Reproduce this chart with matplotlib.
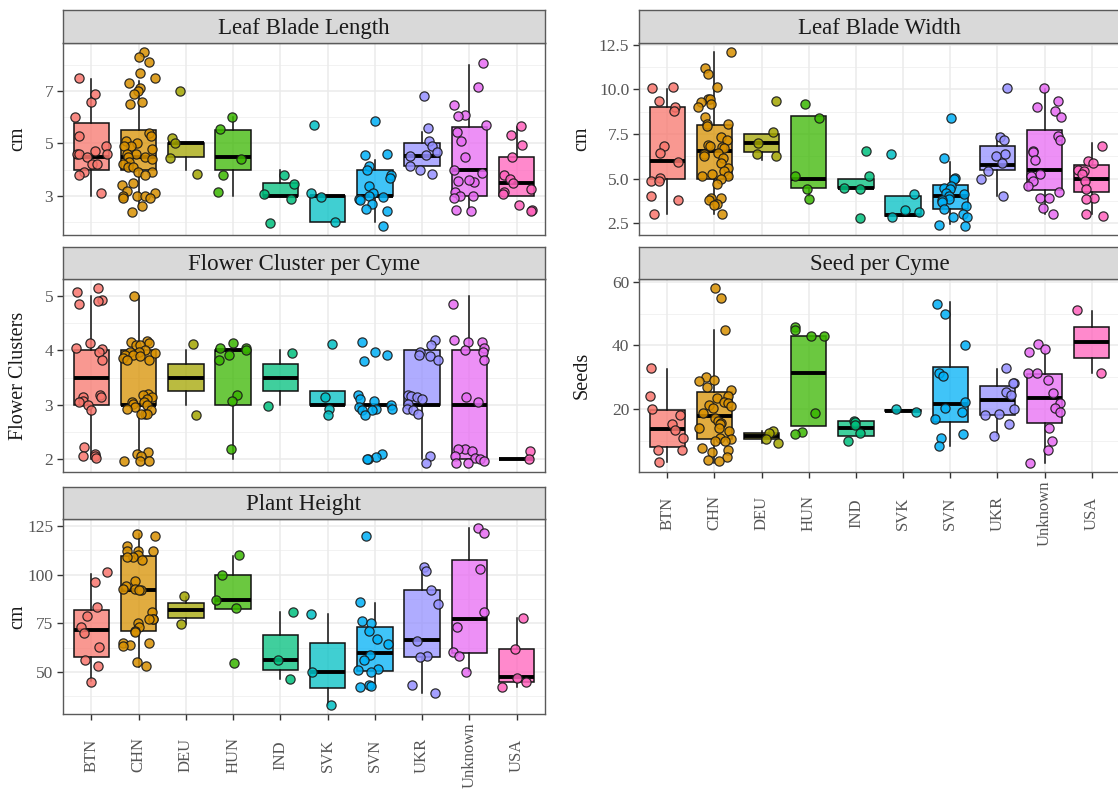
import numpy as np
import matplotlib.pyplot as plt
from matplotlib.colors import to_rgba

plt.rcParams['font.family'] = ['Liberation Serif', 'DejaVu Serif']

countries = ['BTN', 'CHN', 'DEU', 'HUN', 'IND', 'SVK', 'SVN', 'UKR', 'Unknown', 'USA']
palette = ['#F8766D', '#D89000', '#A3A500', '#39B600', '#00BF7D',
           '#00BFC4', '#00B0F6', '#9590FF', '#E76BF3', '#FF62BC']

# ---- Leaf Blade Length (cm) ----
length_pts = [
    [7.5, 6.6, 6.9, 6.0, 5.3, 4.9, 4.6, 4.6, 4.6, 4.7, 4.5, 4.2, 4.2, 3.9, 3.8, 3.1],
    [8.5, 8.3, 8.1, 7.7, 7.5, 7.3, 7.1, 7.0, 6.9, 6.6, 6.5, 5.4, 5.3, 5.1, 5.0, 4.9, 4.9,
     4.8, 4.6, 4.6, 4.5, 4.5, 4.4, 4.3, 4.2, 4.1, 4.1, 3.9, 3.9, 3.8, 3.5, 3.4, 3.2, 3.1,
     3.0, 3.0, 3.0, 2.9, 2.9, 2.6, 2.4],
    [7.0, 5.2, 5.0, 4.45, 3.85],
    [6.0, 5.55, 4.4, 3.8, 3.15],
    [3.8, 3.45, 3.06, 2.87, 1.97],
    [5.7, 3.1, 2.97, 2.0],
    [5.85, 4.6, 4.55, 4.13, 4.0, 3.8, 3.67, 3.38, 3.1, 3.0, 2.94, 2.87, 2.85, 2.7, 2.5, 2.43, 1.84],
    [6.8, 5.58, 5.08, 4.91, 4.66, 4.53, 4.57, 4.13, 4.0, 3.85],
    [8.06, 7.15, 6.48, 6.08, 6.03, 5.7, 5.45, 5.1, 4.5, 4.0, 3.88, 3.53, 3.56, 3.6, 3.15,
     3.0, 3.0, 2.9, 2.47, 2.43],
    [5.67, 5.33, 4.93, 4.48, 3.8, 3.63, 3.5, 3.28, 3.13, 3.06, 2.65, 2.47, 2.41],
]
length_q1 = [4.0, 4.0, 4.47, 4.0, 3.0, 2.0, 3.0, 4.13, 3.0, 3.0]
length_med = [4.5, 4.5, 5.0, 4.5, 3.0, 3.0, 3.0, 4.53, 4.0, 3.5]
length_q3 = [5.77, 5.5, 5.0, 5.5, 3.5, 3.0, 4.0, 5.0, 5.62, 4.5]
length_lo = [3.0, 2.5, 4.0, 3.0, 3.0, 2.0, 2.0, 4.13, 2.5, 3.0]
length_hi = [7.47, 7.4, 5.0, 6.0, 3.97, 3.0, 4.38, 5.45, 8.0, 5.64]

# ---- Leaf Blade Width (cm) ----
width_pts = [
    [10.1, 10.05, 9.36, 9.03, 8.8, 6.85, 6.42, 5.93, 5.05, 4.86, 4.86, 4.0, 3.82, 3.03],
    [12.07, 11.2, 10.86, 10.13, 9.43, 9.43, 9.27, 9.17, 9.0, 8.44, 8.07, 8.07, 7.93, 7.34,
     7.15, 6.88, 6.84, 6.79, 6.7, 6.42, 6.39, 6.24, 6.15, 5.87, 5.6, 5.41, 5.23, 5.14, 5.14,
     5.0, 4.68, 3.94, 3.89, 3.8, 3.58, 3.52, 3.03],
    [9.36, 7.6, 7.0, 6.39, 6.24],
    [9.2, 8.39, 5.13, 4.44, 3.85],
    [6.57, 5.14, 4.5, 4.4, 2.8],
    [6.39, 4.13, 3.25, 3.12, 2.85],
    [8.39, 6.13, 5.02, 4.99, 4.59, 4.5, 4.4, 4.22, 4.13, 4.04, 3.85, 3.8, 3.67, 3.49, 3.27,
     3.03, 2.84, 2.84, 2.39, 2.33],
    [10.09, 7.34, 7.16, 6.39, 6.24, 5.87, 5.41, 4.95, 4.04],
    [10.09, 9.36, 9.0, 8.8, 8.44, 7.38, 7.16, 6.57, 6.51, 6.06, 5.23, 5.17, 4.86, 4.59, 4.26,
     3.94, 3.94, 3.34, 3.03],
    [6.84, 5.96, 5.87, 5.5, 5.41, 5.23, 4.86, 4.44, 3.94, 3.85, 3.03, 2.9],
]
width_q1 = [5.0, 5.0, 6.5, 4.5, 4.5, 2.93, 3.3, 5.47, 4.37, 4.26]
width_med = [6.0, 6.55, 7.0, 5.0, 4.5, 2.97, 4.04, 5.78, 5.5, 5.0]
width_q3 = [9.0, 8.0, 7.5, 8.5, 5.0, 4.04, 4.62, 6.84, 7.74, 5.78]
width_lo = [3.0, 3.0, 6.05, 4.0, 4.5, 2.93, 2.48, 4.04, 3.03, 3.03]
width_hi = [10.0, 12.1, 7.5, 8.5, 5.0, 4.04, 5.9, 7.49, 10.0, 6.97]

# ---- Flower Cluster per Cyme ----
flower_pts = [
    [5.15, 5.08, 4.92, 4.9, 4.85, 4.13, 4.05, 4.03, 3.98, 3.83, 3.18, 3.15, 3.14, 3.08, 3.05,
     2.99, 2.9, 2.22, 2.1, 2.06, 2.06, 2.03],
    [5.0, 4.18, 4.16, 4.13, 4.1, 4.1, 4.0, 3.98, 3.98, 3.95, 3.92, 3.92, 3.9, 3.86, 3.83,
     3.83, 3.2, 3.18, 3.14, 3.11, 3.05, 3.05, 3.02, 2.99, 2.96, 2.93, 2.9, 2.84, 2.84, 2.84,
     2.13, 2.1, 2.06, 1.97, 1.97, 1.97],
    [4.12, 2.82],
    [4.13, 4.04, 4.04, 4.0, 3.92, 3.83, 3.18, 3.08, 2.19],
    [3.95, 2.98],
    [4.12, 3.14, 2.93, 2.82],
    [4.16, 3.98, 3.92, 3.81, 3.18, 3.11, 3.08, 2.99, 2.96, 2.93, 2.93, 2.9, 2.9, 2.81, 2.1,
     2.04, 2.0, 2.0],
    [4.2, 4.1, 3.98, 3.92, 3.89, 3.83, 3.18, 3.16, 3.14, 3.11, 3.02, 2.93, 2.9, 2.84, 2.06, 1.94],
    [4.86, 4.2, 4.16, 4.16, 4.04, 4.0, 3.98, 3.83, 3.14, 3.05, 2.19, 2.19, 2.16, 2.06, 2.03,
     2.01, 1.97, 1.94, 1.93],
    [2.16, 2.01],
]
flower_q1 = [3.0, 3.0, 3.25, 3.0, 3.25, 3.0, 3.0, 3.0, 2.0, 2.0]
flower_med = [3.5, 3.0, 3.5, 4.0, 3.5, 3.0, 3.0, 3.0, 3.0, 2.0]
flower_q3 = [4.0, 4.0, 3.75, 4.0, 3.75, 3.25, 3.0, 4.0, 4.0, 2.0]
flower_lo = [2.0, 2.0, 3.0, 2.0, 3.0, 3.0, 3.0, 2.0, 2.0, 2.0]
flower_hi = [5.0, 5.0, 4.0, 4.0, 4.0, 3.25, 3.0, 4.0, 5.0, 2.0]

# ---- Seed per Cyme ----
seed_pts = [
    [33.0, 24.0, 20.0, 18.2, 15.3, 13.5, 11.0, 7.2, 7.2, 3.5],
    [58.1, 55.0, 44.9, 30.2, 29.1, 28.9, 27.0, 26.0, 24.1, 23.4, 22.2, 21.9, 21.3, 21.0,
     20.3, 18.8, 17.2, 16.2, 15.6, 15.3, 14.1, 14.1, 13.1, 11.0, 10.5, 9.9, 9.9, 7.9, 7.2,
     6.5, 4.8, 4.0, 3.7],
    [13.1, 12.5, 10.7, 9.4],
    [45.9, 44.7, 42.9, 42.9, 18.8, 12.7, 12.3],
    [16.2, 15.9, 15.1, 12.5, 9.9],
    [19.0, 20.0],
    [53.0, 50.0, 40.0, 31.2, 30.4, 22.2, 20.3, 19.0, 16.9, 12.3, 11.0, 8.4],
    [33.0, 28.1, 28.1, 25.5, 24.5, 20.0, 18.6, 18.2, 15.4, 11.5],
    [40.5, 38.9, 37.9, 31.2, 31.2, 29.1, 25.0, 22.0, 20.3, 19.0, 14.1, 9.9, 7.2, 3.2],
    [51.1, 31.2],
]
seed_q1 = [8.2, 10.5, 10.5, 14.6, 11.5, 19.3, 15.9, 18.2, 15.6, 36.2]
seed_med = [13.6, 17.7, 11.5, 31.2, 14.1, 19.5, 21.6, 22.7, 23.4, 41.0]
seed_q3 = [19.6, 25.5, 12.5, 42.9, 16.2, 19.7, 33.3, 27.4, 31.0, 45.9]
seed_lo = [3.5, 3.0, 9.5, 14.6, 11.5, 19.3, 8.4, 11.5, 3.0, 31.2]
seed_hi = [32.7, 44.7, 13.0, 42.9, 16.2, 19.7, 53.5, 32.7, 38.4, 50.9]

# ---- Plant Height (cm) ----
height_pts = [
    [101.2, 96.0, 83.5, 79.0, 73.2, 70.1, 62.9, 56.0, 53.1, 44.9],
    [120.9, 119.9, 114.7, 112.3, 112.3, 112.3, 110.1, 109.2, 108.9, 107.8, 96.9, 94.1, 92.7,
     92.4, 92.1, 92.1, 80.9, 77.4, 77.0, 77.0, 74.9, 73.2, 71.1, 70.6, 65.0, 65.0, 63.8, 63.4,
     55.2, 52.9],
    [89.2, 74.4],
    [109.9, 99.8, 86.9, 83.0, 54.8],
    [80.9, 56.0, 46.1],
    [79.7, 50.0, 33.2],
    [119.9, 86.1, 76.1, 75.0, 71.0, 66.9, 64.3, 58.9, 56.0, 51.4, 50.9, 50.0, 43.2, 42.8, 42.3],
    [104.1, 101.8, 92.1, 84.9, 66.0, 58.1, 57.8, 43.2, 39.2],
    [124.1, 121.6, 103.0, 80.9, 72.9, 60.3, 58.1, 50.0],
    [77.8, 62.0, 47.1, 44.9, 42.0],
]
height_q1 = [57.8, 71.0, 77.8, 82.6, 50.9, 41.5, 50.6, 57.8, 59.8, 44.9]
height_med = [71.5, 92.1, 81.8, 86.9, 56.0, 50.0, 59.5, 66.3, 77.0, 47.5]
height_q3 = [82.1, 109.7, 85.2, 100.1, 68.9, 65.0, 73.2, 92.1, 107.8, 62.0]
height_lo = [45.4, 52.6, 74.6, 82.6, 46.1, 32.9, 42.0, 39.2, 50.6, 42.3]
height_hi = [100.6, 120.9, 88.6, 109.7, 80.9, 79.7, 85.5, 104.1, 123.8, 77.5]

W, H = 1118, 789
fig = plt.figure(figsize=(W / 100, H / 100), dpi=100)
rng = np.random.default_rng(11)

border = '#5a5a5a'


def facet(x0, x1, strip_top, y0, y1, title, ylabel, ylab_x, pts, q1, med, q3, lo, hi,
          major, minor, fmt, bottom_labels):
    ax = fig.add_axes([x0 / W, 1 - y1 / H, (x1 - x0) / W, (y1 - y0) / H])
    sx = fig.add_axes([x0 / W, 1 - y0 / H, (x1 - x0) / W, (y0 - strip_top) / H])
    sx.set_facecolor('#D9D9D9')
    sx.set_xticks([])
    sx.set_yticks([])
    for s in sx.spines.values():
        s.set_color(border)
        s.set_linewidth(1.0)
    sx.text(0.5, 0.45, title, ha='center', va='center', fontsize=16.5, color='#1a1a1a',
            transform=sx.transAxes)

    ax.set_facecolor('white')
    ax.set_axisbelow(True)
    for y in minor:
        ax.axhline(y, color='#F0F0F0', lw=0.6, zorder=0)
    for y in major:
        ax.axhline(y, color='#EBEBEB', lw=1.1, zorder=0)
    for i in range(len(countries)):
        ax.axvline(i + 1, color='#EBEBEB', lw=1.1, zorder=0)

    stats = []
    for i in range(len(countries)):
        stats.append(dict(q1=q1[i], med=med[i], q3=q3[i], whislo=lo[i], whishi=hi[i],
                          fliers=[]))
    bp = ax.bxp(stats, positions=range(1, 11), widths=0.75, patch_artist=True,
                showfliers=False, showcaps=False,
                boxprops=dict(linewidth=1.1, edgecolor='#111111'),
                whiskerprops=dict(linewidth=1.1, color='#111111'),
                medianprops=dict(linewidth=2.8, color='#000000', solid_capstyle='butt'))
    for patch, c in zip(bp['boxes'], palette):
        patch.set_facecolor(to_rgba(c, 0.75))
        patch.set_zorder(2)

    vals_all = []
    for i, vals in enumerate(pts):
        xs = i + 1 + rng.uniform(-0.36, 0.36, len(vals))
        ax.scatter(xs, vals, s=44, facecolor=to_rgba(palette[i], 0.85),
                   edgecolor=(0.1, 0.1, 0.1, 0.9), linewidth=0.9, zorder=4)
        vals_all += list(vals)
    vals_all += list(lo) + list(hi)
    lo_v, hi_v = min(vals_all), max(vals_all)
    pad = 0.05 * (hi_v - lo_v)
    ax.set_ylim(lo_v - pad, hi_v + pad)
    ax.set_xlim(0.4, 10.6)

    ax.set_yticks(major)
    ax.set_yticklabels([fmt.format(v) for v in major], fontsize=12.5, color='#555555')
    ax.tick_params(axis='y', length=4.5, width=1.0, color='#333333', pad=2.5)
    if bottom_labels:
        ax.set_xticks(range(1, 11))
        ax.set_xticklabels([])
        ax.tick_params(axis='x', length=4.5, width=1.0, color='#333333')
        for i, name in enumerate(countries):
            ax.annotate(name, xy=(i + 1, 0), xycoords=('data', 'axes fraction'),
                        xytext=(0, -41), textcoords='offset pixels', rotation=90,
                        ha='center', va='center', fontsize=12, color='#555555')
    else:
        ax.set_xticks([])
    for s in ax.spines.values():
        s.set_color(border)
        s.set_linewidth(1.0)

    fig.text(ylab_x / W, 1 - (y0 + y1) / 2 / H, ylabel, rotation=90, ha='center',
             va='center', fontsize=14.5, color='#1a1a1a')
    return ax


facet(63, 545, 10, 43, 235, 'Leaf Blade Length', 'cm', 18,
      length_pts, length_q1, length_med, length_q3, length_lo, length_hi,
      [3, 5, 7], [2, 4, 6, 8], '{:.0f}', False)
facet(63, 545, 247, 279, 472, 'Flower Cluster per Cyme', 'Flower Clusters', 19,
      flower_pts, flower_q1, flower_med, flower_q3, flower_lo, flower_hi,
      [2, 3, 4, 5], [2.5, 3.5, 4.5], '{:.0f}', False)
facet(63, 545, 487, 519, 714, 'Plant Height', 'cm', 18,
      height_pts, height_q1, height_med, height_q3, height_lo, height_hi,
      [50, 75, 100, 125], [37.5, 62.5, 87.5, 112.5], '{:.0f}', True)
facet(639, 1120, 10, 43, 235, 'Leaf Blade Width', 'cm', 582,
      width_pts, width_q1, width_med, width_q3, width_lo, width_hi,
      [2.5, 5.0, 7.5, 10.0, 12.5], [3.75, 6.25, 8.75, 11.25], '{:.1f}', False)
facet(639, 1120, 247, 279, 472, 'Seed per Cyme', 'Seeds', 582,
      seed_pts, seed_q1, seed_med, seed_q3, seed_lo, seed_hi,
      [20, 40, 60], [10, 30, 50], '{:.0f}', True)

fig.savefig('out.png', dpi=100)
